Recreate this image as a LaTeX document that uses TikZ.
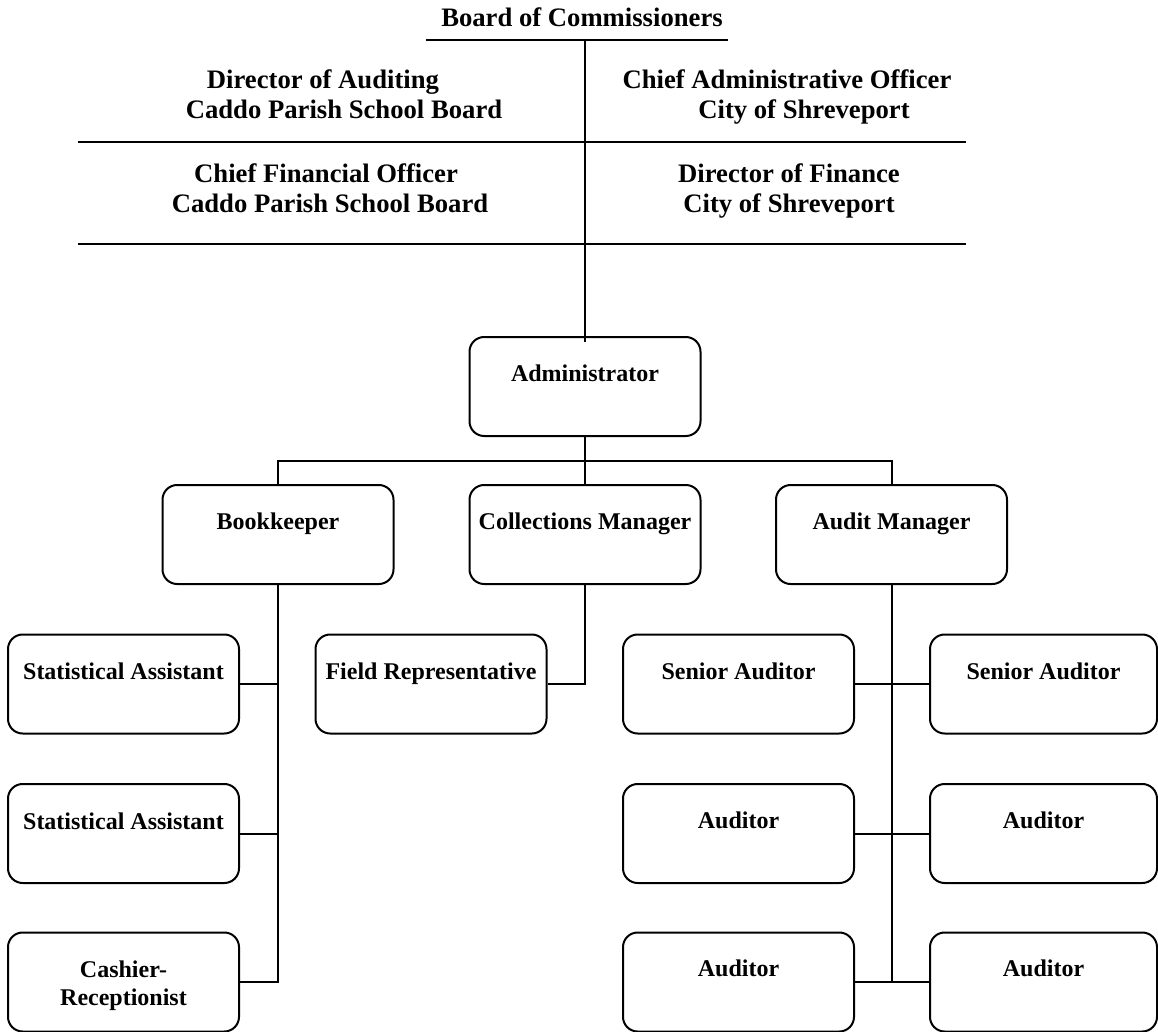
\documentclass[tikz,border=0pt]{standalone}
\usepackage{fontspec}
\setmainfont{Liberation Serif}
\usetikzlibrary{calc}
\begin{document}
\begin{tikzpicture}[x=0.75pt,y=-0.75pt,
  box/.style={draw, line width=1.5pt, rounded corners=11pt, minimum width=173.25pt, minimum height=74.25pt, inner sep=0pt},
  boxr/.style={box, minimum width=170.25pt},
  lbl/.style={anchor=base, inner sep=0pt, font=\fontsize{20}{21}\selectfont\bfseries},
  blbl/.style={anchor=base, inner sep=0pt, font=\fontsize{18}{19}\selectfont\bfseries},
  conn/.style={line width=1.5pt},
  rule/.style={line width=1.8pt}]
\useasboundingbox (0,0) rectangle (1158,1032);

% top text
\node[lbl] (boc) at (582,26) {Board of Commissioners};
\node[lbl] (da1) at (323,88) {Director of Auditing};
\node[lbl] (da2) at (344,118) {Caddo Parish School Board};
\node[lbl] (ca1) at (787,88) {Chief Administrative Officer};
\node[lbl] (ca2) at (804,118) {City of Shreveport};
\node[lbl] (cf1) at (326,182) {Chief Financial Officer};
\node[lbl] (cf2) at (330,212) {Caddo Parish School Board};
\node[lbl] (df1) at (789,182) {Director of Finance};
\node[lbl] (df2) at (789,212) {City of Shreveport};

\coordinate (bl) at (426,40);
\coordinate (br) at (728,40);
\coordinate (btop) at (585,40);
\coordinate (r1a) at (78,142);
\coordinate (r1b) at (966,142);
\coordinate (r2a) at (78,244);
\coordinate (r2b) at (966,244);
\draw[rule] (bl) -- (br);
\draw[rule] (r1a) -- (r1b);
\draw[rule] (r2a) -- (r2b);

% boxes
\node[box] (adm) at (585,386.5) {};
\node[box] (bk) at (278,534.5) {};
\node[box] (cm) at (585,534.5) {};
\node[box] (am) at (891.5,534.5) {};
\node[box] (sa1) at (123.5,684) {};
\node[box] (sa2) at (123.5,833.5) {};
\node[box] (cr) at (123.5,982) {};
\node[box] (fr) at (431,684) {};
\node[box] (sr1) at (738.5,684) {};
\node[boxr] (sr2) at (1043.5,684) {};
\node[box] (au1) at (738.5,833.5) {};
\node[boxr] (au2) at (1043.5,833.5) {};
\node[box] (au3) at (738.5,982) {};
\node[boxr] (au4) at (1043.5,982) {};

% box labels
\node[blbl] at ($(adm.north)+(0,45)$) {Administrator};
\node[blbl] at ($(bk.north)+(0,45)$) {Bookkeeper};
\node[blbl] at ($(cm.north)+(0,45)$) {Collections Manager};
\node[blbl] at ($(am.north)+(0,45)$) {Audit Manager};
\node[blbl] at ($(sa1.north)+(0,46)$) {Statistical Assistant};
\node[blbl] at ($(sa2.north)+(0,46)$) {Statistical Assistant};
\node[blbl] at ($(cr.north)+(0,46)$) {Cashier-};
\node[blbl] at ($(cr.north)+(0,74)$) {Receptionist};
\node[blbl] at ($(fr.north)+(0,46)$) {Field Representative};
\node[blbl] at ($(sr1.north)+(0,46)$) {Senior Auditor};
\node[blbl] at ($(sr2.north)+(0,46)$) {Senior Auditor};
\node[blbl] at ($(au1.north)+(0,45)$) {Auditor};
\node[blbl] at ($(au2.north)+(0,45)$) {Auditor};
\node[blbl] at ($(au3.north)+(0,45)$) {Auditor};
\node[blbl] at ($(au4.north)+(0,45)$) {Auditor};

% connectors
\draw[conn] (btop) -- ($(adm.north)+(0,6)$);
\draw[conn] (adm.south) -- (cm.north);
\draw[conn] (bk.north) -- ++(0,-23) -| (am.north);
\draw[conn] (bk.south) |- (cr.east);
\draw[conn] (sa1.east) -- (sa1.east -| bk.south);
\draw[conn] (sa2.east) -- (sa2.east -| bk.south);
\draw[conn] (cm.south) |- (fr.east);
\draw[conn] (am.south) -- (am.south |- au3.east);
\draw[conn] (sr1.east) -- (sr2.west);
\draw[conn] (au1.east) -- (au2.west);
\draw[conn] (au3.east) -- (au4.west);
\end{tikzpicture}
\end{document}
